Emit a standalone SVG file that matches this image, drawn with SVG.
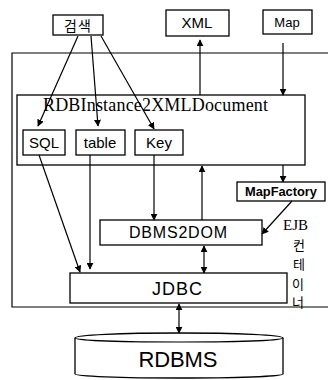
<svg xmlns="http://www.w3.org/2000/svg" width="328" height="380" viewBox="0 0 328 380">
<defs>
<style>
.box{fill:#fff;stroke:#000;stroke-width:1.3}
.ln{fill:none;stroke:#000;stroke-width:1.2}
.sans{font-family:"Liberation Sans",Arial,sans-serif;fill:#000;text-anchor:middle}
.serif{font-family:"Liberation Serif","Times New Roman",serif;fill:#000}
.kr{font-family:"Noto Sans CJK KR","Noto Sans",sans-serif;fill:#000;text-anchor:middle}
</style>
<marker id="ah" viewBox="0 0 10 10" refX="9" refY="5" markerWidth="7" markerHeight="7" markerUnits="userSpaceOnUse" orient="auto-start-reverse">
<path d="M0,0 L10,5 L0,10 Z" fill="#000"/>
</marker>
</defs>
<rect width="328" height="380" fill="#fff"/>

<g id="container">
<path class="ln" d="M330,53 H12 V307 H330"/>
</g>

<g id="search">
<rect class="box" x="53" y="15" width="50" height="20"/>
<text class="kr" x="78" y="31" font-size="14" letter-spacing="1">검색</text>
</g>
<g id="xml">
<rect class="box" x="166" y="10" width="63" height="26"/>
<text class="sans" x="197" y="28" font-size="15">XML</text>
</g>
<g id="map">
<rect class="box" x="263" y="10" width="49" height="24"/>
<text class="sans" x="287" y="27" font-size="13">Map</text>
</g>

<g id="rdbinstance">
<rect class="box" x="17" y="95" width="288" height="70"/>
<text class="serif" x="43" y="111" font-size="18" textLength="225" lengthAdjust="spacing">RDBInstance2XMLDocument</text>
</g>
<g id="sql">
<rect class="box" x="23" y="130" width="42" height="25"/>
<text class="sans" x="44" y="148" font-size="15">SQL</text>
</g>
<g id="table">
<rect class="box" x="76" y="130" width="49" height="25"/>
<text class="sans" x="100" y="148" font-size="15">table</text>
</g>
<g id="key">
<rect class="box" x="135" y="130" width="48" height="25"/>
<text class="sans" x="159" y="148" font-size="15">Key</text>
</g>

<g id="mapfactory">
<rect class="box" x="237" y="182" width="88" height="19"/>
<text class="sans" x="281" y="196" font-size="12" font-weight="bold" textLength="72" lengthAdjust="spacingAndGlyphs">MapFactory</text>
</g>
<g id="dbms2dom">
<rect class="box" x="100" y="220" width="162" height="25"/>
<text class="sans" x="178" y="238" font-size="16" textLength="98" lengthAdjust="spacing">DBMS2DOM</text>
</g>
<g id="jdbc">
<rect class="box" x="70" y="273" width="217" height="30"/>
<text class="sans" x="177" y="295" font-size="18" textLength="50" lengthAdjust="spacing">JDBC</text>
</g>
<g id="rdbms">
<path class="box" d="M75,338 A104,5 0 0,1 283,338 V374 A104,4 0 0,1 75,374 Z"/>
<path class="ln" d="M75,338 A104,4 0 0,0 283,338"/>
<text class="sans" x="178" y="367" font-size="22" textLength="79" lengthAdjust="spacing">RDBMS</text>
</g>

<g id="ejb-label">
<text class="serif" x="283" y="230" font-size="15">EJB</text>
<text class="kr" x="299" y="250" font-size="13">컨</text>
<text class="kr" x="299" y="269" font-size="13">테</text>
<text class="kr" x="298" y="289" font-size="13">이</text>
<text class="kr" x="298" y="307" font-size="13">너</text>
</g>

<g id="connectors">
<line class="ln" x1="78" y1="36" x2="38" y2="126" marker-end="url(#ah)"/>
<line class="ln" x1="91" y1="36" x2="98" y2="126" marker-end="url(#ah)"/>
<line class="ln" x1="101" y1="36" x2="154" y2="129" marker-end="url(#ah)"/>
<line class="ln" x1="200" y1="95" x2="200" y2="40" marker-end="url(#ah)"/>
<line class="ln" x1="283" y1="43" x2="283" y2="95" marker-end="url(#ah)"/>
<line class="ln" x1="283" y1="165" x2="283" y2="182" marker-end="url(#ah)"/>
<line class="ln" x1="202" y1="220" x2="202" y2="166" marker-end="url(#ah)"/>
<line class="ln" x1="154" y1="155" x2="154" y2="220" marker-end="url(#ah)"/>
<line class="ln" x1="292" y1="201" x2="262" y2="234" marker-end="url(#ah)"/>
<line class="ln" x1="39" y1="155" x2="80" y2="272" marker-end="url(#ah)"/>
<line class="ln" x1="90" y1="155" x2="90" y2="269" marker-end="url(#ah)"/>
<line class="ln" x1="204" y1="246" x2="204" y2="273" marker-start="url(#ah)" marker-end="url(#ah)"/>
<line class="ln" x1="179" y1="304" x2="179" y2="333" marker-start="url(#ah)" marker-end="url(#ah)"/>
</g>
</svg>
